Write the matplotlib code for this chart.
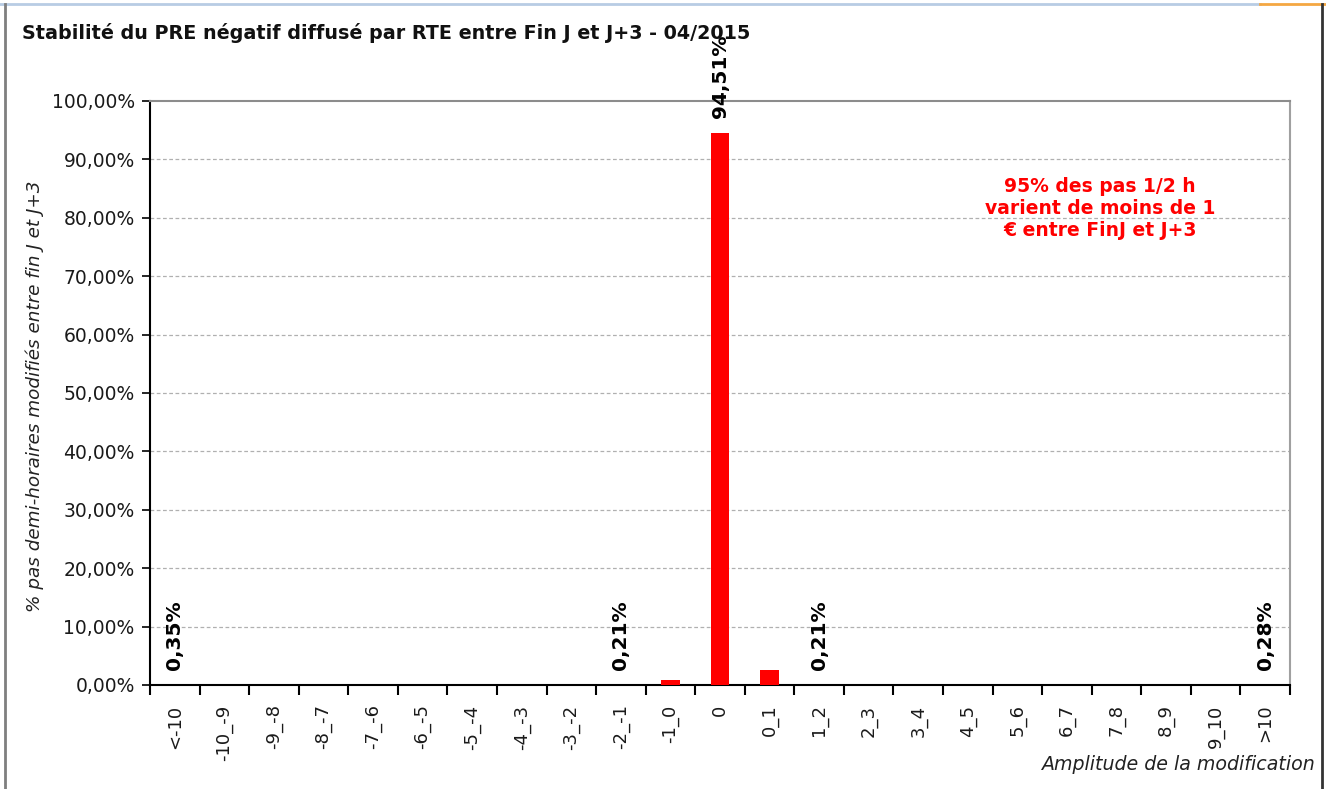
import matplotlib
matplotlib.use("Agg")
import matplotlib.pyplot as plt
from matplotlib.lines import Line2D
from matplotlib.ticker import FixedLocator, FuncFormatter

categories = ["<-10", "-10_-9", "-9_-8", "-8_-7", "-7_-6", "-6_-5", "-5_-4", "-4_-3",
              "-3_-2", "-2_-1", "-1_0", "0", "0_1", "1_2", "2_3", "3_4", "4_5",
              "5_6", "6_7", "7_8", "8_9", "9_10", ">10"]
# visible bar heights (%)
values = [0, 0, 0, 0, 0, 0, 0, 0, 0, 0, 0.80, 94.51, 2.60, 0,
          0, 0, 0, 0, 0, 0, 0, 0, 0]
# data labels shown on the chart (%), None where no label
label_values = [0.35, None, None, None, None, None, None, None, None, 0.21, None,
                94.51, None, 0.21, None, None, None, None, None, None, None, None, 0.28]
yticks = [0, 10, 20, 30, 40, 50, 60, 70, 80, 90, 100]

title = "Stabilité du PRE négatif diffusé par RTE entre Fin J et J+3 - 04/2015"
ylabel = "% pas demi-horaires modifiés entre fin J et J+3"
xlabel = "Amplitude de la modification"
note = "95% des pas 1/2 h\nvarient de moins de 1\n€ entre FinJ et J+3"

plt.rcParams['font.family'] = ['DejaVu Sans']

W, H = 1326, 789
fig = plt.figure(figsize=(W / 100, H / 100), dpi=100)
ax = fig.add_axes([150 / W, 1 - 685 / H, (1290 - 150) / W, (685 - 101) / H])

x = list(range(len(categories)))
ax.bar(x, values, width=0.37, color="#FF0000", zorder=3)

ax.set_xlim(-0.5, len(categories) - 0.5)
ax.set_ylim(0, 100)

ax.set_yticks(yticks)
ax.yaxis.set_major_formatter(FuncFormatter(lambda v, p: f"{v:.2f}%".replace(".", ",")))
ax.tick_params(axis="y", direction="out", length=6, width=1.2, color="black",
               labelsize=13.5, pad=5, labelcolor="#1a1a1a")

ax.set_xticks(x)
ax.set_xticklabels(categories, rotation=90, va="top", ha="center", fontsize=13)
ax.tick_params(axis="x", which="major", length=0, pad=14, labelcolor="#1a1a1a")
ax.xaxis.set_minor_locator(FixedLocator([i - 0.5 for i in range(len(categories) + 1)]))
ax.tick_params(axis="x", which="minor", direction="out", length=7, width=1.5, color="black")

for v in yticks[1:-1]:
    ax.axhline(v, color="#b0b0b0", linestyle=(0, (3, 2)), linewidth=0.9, zorder=1)

ax.spines["left"].set_color("black")
ax.spines["left"].set_linewidth(1.5)
ax.spines["bottom"].set_color("black")
ax.spines["bottom"].set_linewidth(1.5)
ax.spines["top"].set_color("#8c8c8c")
ax.spines["top"].set_linewidth(1.5)
ax.spines["right"].set_color("#a0a0a0")
ax.spines["right"].set_linewidth(1.5)

for xi, lv in enumerate(label_values):
    if lv is None:
        continue
    txt = f"{lv:.2f}%".replace(".", ",")
    ax.annotate(txt, (xi, values[xi]), xytext=(0, 11), textcoords="offset points",
                rotation=90, ha="center", va="bottom", fontsize=14.5,
                fontweight="bold", color="black", zorder=5,
                annotation_clip=False)

fig.text(22 / W, 1 - 33 / H, title, fontsize=13.8, fontweight="bold",
         ha="left", va="center", color="#111111")

fig.text(35 / W, 1 - 396 / H, ylabel, rotation=90, fontsize=13.2, style="italic",
         ha="center", va="center", color="#222222")

fig.text(1315 / W, 1 - 765 / H, xlabel, fontsize=13.7, style="italic",
         ha="right", va="center", color="#222222")

fig.text(1100 / W, 1 - 209 / H, note, fontsize=13.5, fontweight="bold",
         color="#FF0000", ha="center", va="center", linespacing=1.2)

# figure frame
fig.add_artist(Line2D([0, 1260 / W], [1 - 4 / H, 1 - 4 / H], color="#b8cce4",
                      linewidth=2, transform=fig.transFigure))
fig.add_artist(Line2D([1260 / W, 1], [1 - 4 / H, 1 - 4 / H], color="#f4a742",
                      linewidth=2, transform=fig.transFigure))
fig.add_artist(Line2D([5 / W, 5 / W], [0, 1 - 4 / H], color="#7f7f7f",
                      linewidth=2, transform=fig.transFigure))
fig.add_artist(Line2D([1322 / W, 1322 / W], [0, 1 - 4 / H], color="#333333",
                      linewidth=2, transform=fig.transFigure))

fig.savefig("out.png", dpi=100)
